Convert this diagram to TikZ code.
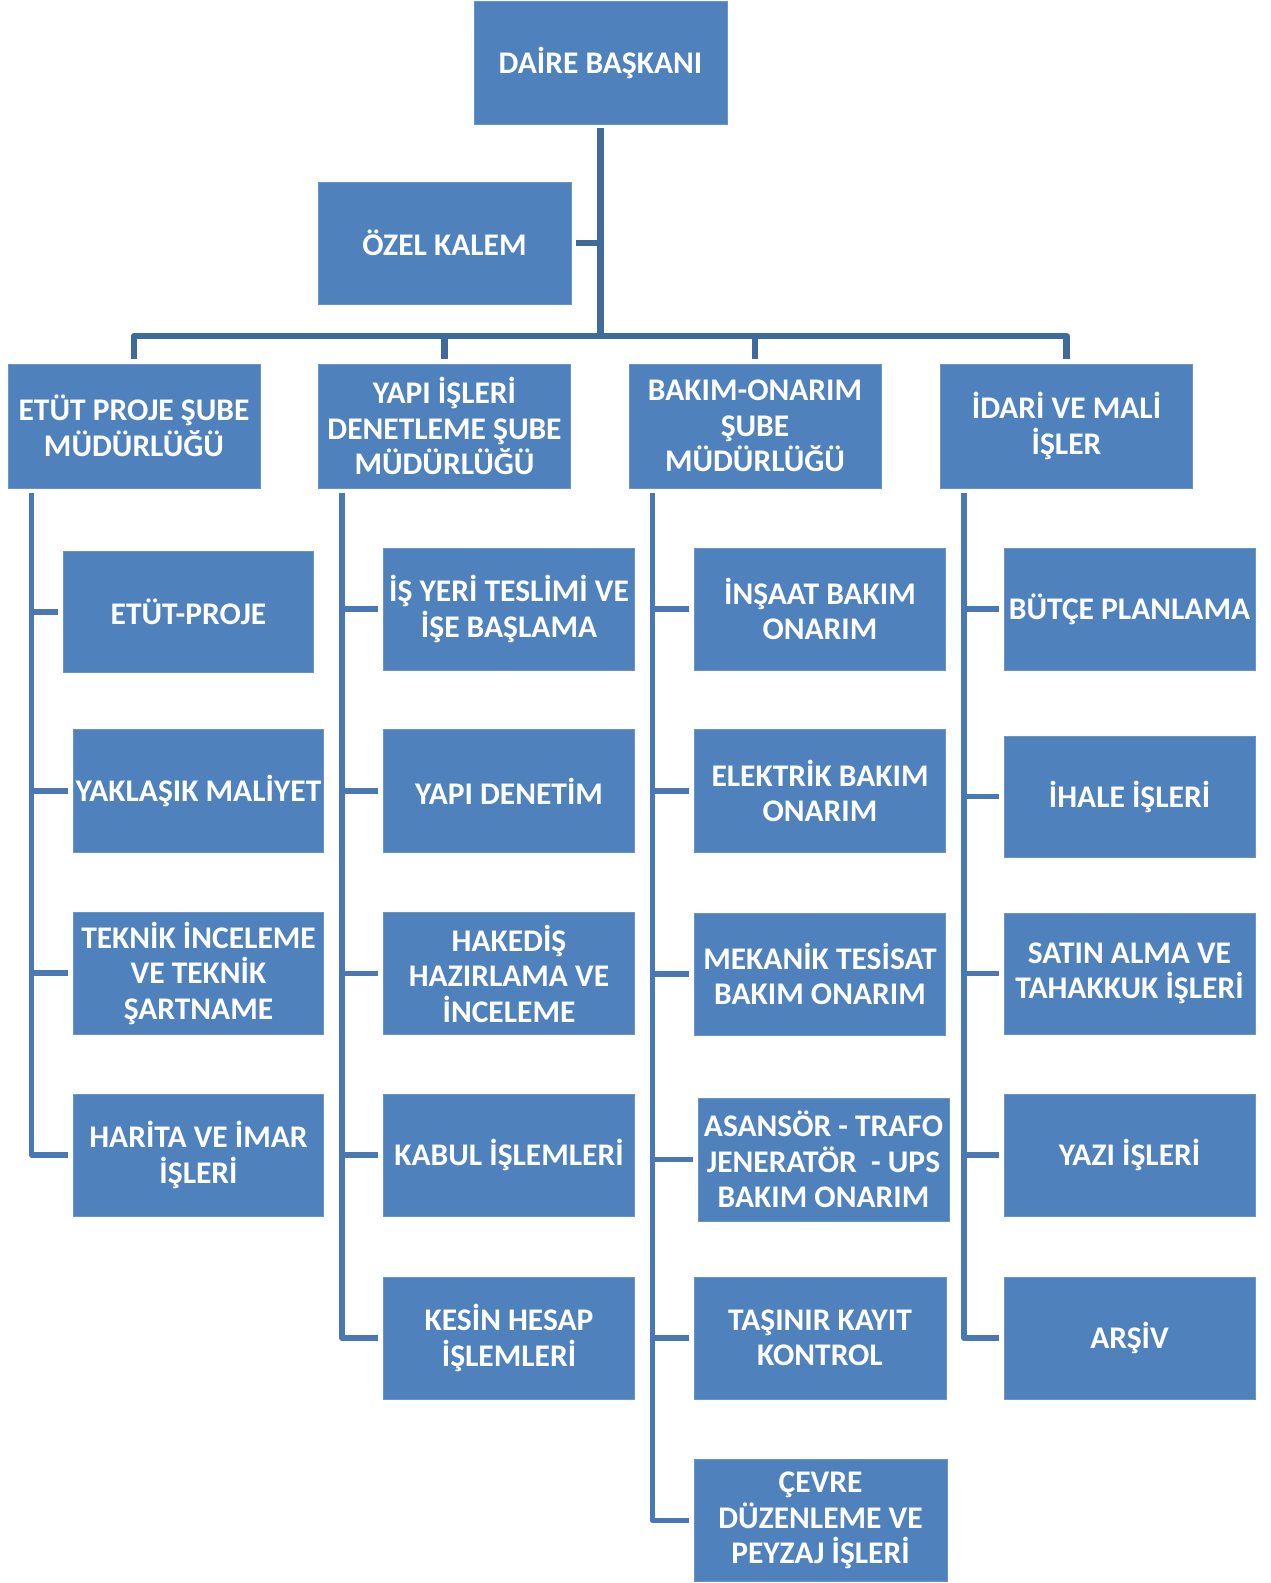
\documentclass[tikz,border=0pt]{standalone}
\usepackage{fontspec}
\setmainfont{Carlito}
\definecolor{boxblue}{HTML}{4F81BD}
\definecolor{trunkc}{HTML}{3E6A9C}
\definecolor{branchc}{HTML}{4A78B4}
\tikzset{
  box/.style={fill=boxblue, draw=boxblue!85!white, line width=0.8pt, text=white, inner sep=0pt,
    align=center, font=\fontsize{31.5}{35.5}\selectfont\bfseries},
  trunk/.style={draw=trunkc, line width=6.5pt, line join=round},
  branch/.style={draw=branchc, line width=5.5pt, line join=round},
}
\begin{document}
\begin{tikzpicture}[x=1pt,y=-1pt]
\useasboundingbox (0,0) rectangle (1271,1583);
% top
\node[box, minimum width=253, minimum height=123] (daire) at (600.5,62.5) {DAİRE BAŞKANI};
\node[box, minimum width=253, minimum height=122] (ozel) at (444.5,243) {ÖZEL KALEM};
% columns
\node[box, minimum width=252, minimum height=124] (etut) at (134,426) {ETÜT PROJE ŞUBE\\MÜDÜRLÜĞÜ};
\node[box, minimum width=252, minimum height=124] (yapi) at (444.5,426) {YAPI İŞLERİ\\DENETLEME ŞUBE\\MÜDÜRLÜĞÜ};
\node[box, minimum width=252, minimum height=124] (bakim) at (755,426) {BAKIM-ONARIM\\ŞUBE\\MÜDÜRLÜĞÜ};
\node[box, minimum width=252, minimum height=124] (idari) at (1066.5,426) {İDARİ VE MALİ\\İŞLER};
% column 1
\node[box, minimum width=250, minimum height=121] (c1a) at (188.5,612) {ETÜT-PROJE};
\node[box, minimum width=250, minimum height=123] (c1b) at (198.5,791) {YAKLAŞIK MALİYET};
\node[box, minimum width=250, minimum height=122] (c1c) at (198.5,973) {TEKNİK İNCELEME\\VE TEKNİK\\ŞARTNAME};
\node[box, minimum width=250, minimum height=122] (c1d) at (198.5,1155) {HARİTA VE İMAR\\İŞLERİ};
% column 2
\node[box, minimum width=251, minimum height=122] (c2a) at (509,609) {İŞ YERİ TESLİMİ VE\\İŞE BAŞLAMA};
\node[box, minimum width=251, minimum height=123] (c2b) at (509,791) {YAPI DENETİM};
\node[box, minimum width=251, minimum height=122] (c2c) at (509,973.5) {HAKEDİŞ\\HAZIRLAMA VE\\İNCELEME};
\node[box, minimum width=251, minimum height=122] (c2d) at (509,1155) {KABUL İŞLEMLERİ};
\node[box, minimum width=251, minimum height=122] (c2e) at (509,1338) {KESİN HESAP\\İŞLEMLERİ};
% column 3
\node[box, minimum width=251, minimum height=122] (c3a) at (820,609) {İNŞAAT BAKIM\\ONARIM};
\node[box, minimum width=251, minimum height=123] (c3b) at (820,791) {ELEKTRİK BAKIM\\ONARIM};
\node[box, minimum width=251, minimum height=122] (c3c) at (820,974) {MEKANİK TESİSAT\\BAKIM ONARIM};
\node[box, minimum width=251, minimum height=123] (c3d) at (823.5,1159.5) {ASANSÖR - TRAFO\\JENERATÖR\ \ - UPS\\BAKIM ONARIM};
\node[box, minimum width=252, minimum height=122] (c3e) at (820,1338) {TAŞINIR KAYIT\\KONTROL};
\node[box, minimum width=253, minimum height=122] (c3f) at (820.5,1520.5) {ÇEVRE\\DÜZENLEME VE\\PEYZAJ İŞLERİ};
% column 4
\node[box, minimum width=251, minimum height=122] (c4a) at (1129.5,609) {BÜTÇE PLANLAMA};
\node[box, minimum width=251, minimum height=121] (c4b) at (1129.5,796.5) {İHALE İŞLERİ};
\node[box, minimum width=251, minimum height=121] (c4c) at (1129.5,973.5) {SATIN ALMA VE\\TAHAKKUK İŞLERİ};
\node[box, minimum width=251, minimum height=122] (c4d) at (1129.5,1155) {YAZI İŞLERİ};
\node[box, minimum width=251, minimum height=122] (c4e) at (1129.5,1338) {ARŞİV};
% trunk
\coordinate (bar) at (600,336);
\draw[trunk] ([yshift=-4pt]daire.south) -- (daire.south |- bar);
\draw[trunk] ([xshift=5pt]ozel.east) -- (daire.south |- ozel.east);
\draw[trunk] ([yshift=5pt]etut.north) -- (etut.north |- bar) -- (idari.north |- bar) -- ([yshift=5pt]idari.north);
\draw[trunk] (yapi.north |- bar) -- ([yshift=5pt]yapi.north);
\draw[trunk] (bakim.north |- bar) -- ([yshift=5pt]bakim.north);
% branches
\draw[branch] ([xshift=24pt,yshift=-5pt]etut.south west) coordinate (v1) -- (v1 |- c1d.west) -- ([xshift=-5pt]c1d.west);
\foreach \n in {c1a,c1b,c1c} \draw[branch] (v1 |- \n.west) -- ([xshift=-5pt]\n.west);
\draw[branch] ([xshift=24pt,yshift=-5pt]yapi.south west) coordinate (v2) -- (v2 |- c2e.west) -- ([xshift=-5pt]c2e.west);
\foreach \n in {c2a,c2b,c2c,c2d} \draw[branch] (v2 |- \n.west) -- ([xshift=-5pt]\n.west);
\draw[branch] ([xshift=24pt,yshift=-5pt]bakim.south west) coordinate (v3) -- (v3 |- c3f.west) -- ([xshift=-5pt]c3f.west);
\foreach \n in {c3a,c3b,c3c,c3d,c3e} \draw[branch] (v3 |- \n.west) -- ([xshift=-5pt]\n.west);
\draw[branch] ([xshift=24pt,yshift=-5pt]idari.south west) coordinate (v4) -- (v4 |- c4e.west) -- ([xshift=-5pt]c4e.west);
\foreach \n in {c4a,c4b,c4c,c4d} \draw[branch] (v4 |- \n.west) -- ([xshift=-5pt]\n.west);
\end{tikzpicture}
\end{document}
